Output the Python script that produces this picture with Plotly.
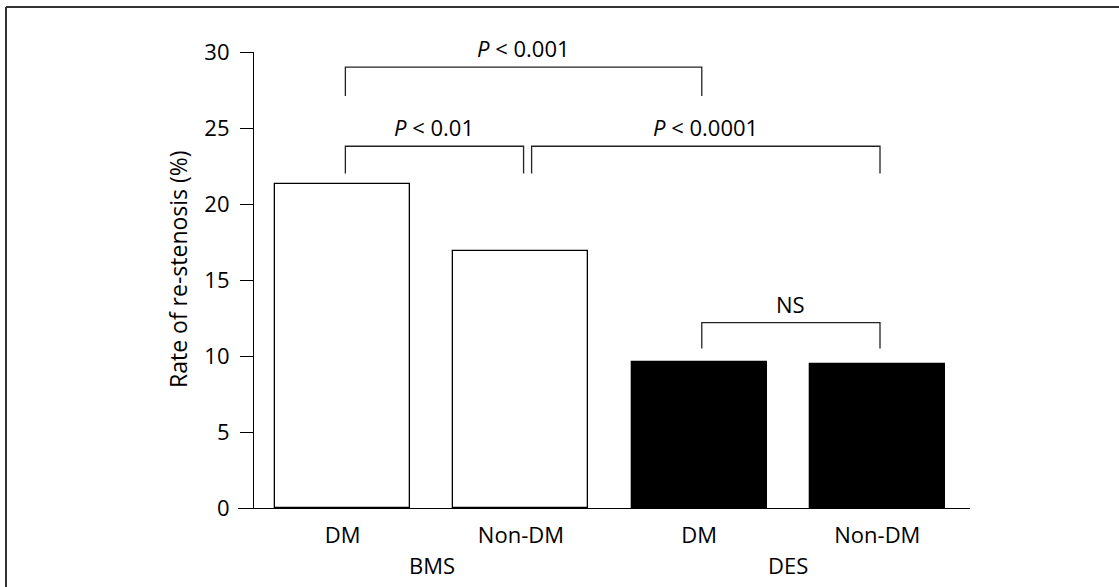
import plotly.graph_objects as go

# Re-stenosis rates by stent type and diabetic status
categories = ["DM", "Non-DM", "DM", "Non-DM"]
stent_groups = ["BMS", "BMS", "DES", "DES"]
restenosis_rate = [21.3, 16.9, 9.6, 9.5]
y_ticks = [0, 5, 10, 15, 20, 25, 30]

# Pairwise comparisons: bar indices, bracket height, leg foot, label
cmp_from = [0, 0, 1, 2]
cmp_to = [2, 1, 3, 3]
cmp_top = [29.0, 23.8, 23.8, 12.2]
cmp_foot = [27.1, 22.0, 22.0, 10.5]
cmp_label = ["<i>P</i> < 0.001", "<i>P</i> < 0.01", "<i>P</i> < 0.0001", "NS"]

# page / plot-area geometry in pixels
W, H = 1119, 587
PL, PR, PT, PB = 238, 970, 52, 508
plot_w, plot_h = PR - PL, PB - PT
YAXIS_PX = 253

FONT = "Open Sans"
FS = 22
INK = "#000000"

x_idx = list(range(len(categories)))
bar_fill = ["white" if g == "BMS" else "black" for g in stent_groups]

fig = go.Figure()
fig.add_trace(go.Bar(
    x=x_idx,
    y=restenosis_rate,
    width=0.758,
    marker=dict(color=bar_fill, line=dict(color="black", width=1.3)),
    hoverinfo="skip",
    showlegend=False,
))

# comparison brackets
nudge, gap = 0.015, 0.045
for k in range(len(cmp_label)):
    x0 = cmp_from[k] + nudge
    x1 = cmp_to[k] + nudge
    # separate brackets that meet at the same bar and height
    for j in range(len(cmp_label)):
        if j != k and cmp_to[j] == cmp_from[k] and cmp_top[j] == cmp_top[k]:
            x0 += gap
    fig.add_trace(go.Scatter(
        x=[x0, x0, x1, x1],
        y=[cmp_foot[k], cmp_top[k], cmp_top[k], cmp_foot[k]],
        mode="lines",
        line=dict(color="#222222", width=1.3),
        hoverinfo="skip",
        showlegend=False,
        cliponaxis=False,
    ))
    fig.add_annotation(
        x=(x0 + x1) / 2, y=cmp_top[k], xref="x", yref="y",
        text=cmp_label[k], showarrow=False,
        yanchor="middle", yshift=19,
        font=dict(family=FONT, size=FS, color=INK),
    )

# group labels centred under their bars
for g in dict.fromkeys(stent_groups):
    members = [i for i, s in enumerate(stent_groups) if s == g]
    fig.add_annotation(
        x=sum(members) / len(members), xref="x",
        y=(PB - 565) / plot_h, yref="paper",
        text=g, showarrow=False, yanchor="middle",
        font=dict(family=FONT, size=FS, color=INK),
    )

# y-axis title
fig.add_annotation(
    x=(178 - PL) / plot_w, xref="paper",
    y=(PB - 269) / plot_h, yref="paper",
    text="Rate of re-stenosis (%)", textangle=-90, showarrow=False,
    xanchor="center", yanchor="middle",
    font=dict(family=FONT, size=FS + 1, color=INK),
)

# frame lines along the top and left edge
def px_x(px):
    return (px - PL) / plot_w

def px_y(py):
    return (PB - py) / plot_h

frame = dict(color="#333333", width=2)
fig.add_shape(type="line", xref="paper", yref="paper",
              x0=px_x(6), x1=px_x(W + 2), y0=px_y(7), y1=px_y(7), line=frame)
fig.add_shape(type="line", xref="paper", yref="paper",
              x0=px_x(6), x1=px_x(6), y0=px_y(7), y1=px_y(H + 2), line=frame)

fig.update_layout(
    width=W, height=H,
    margin=dict(l=PL, r=W - PR, t=PT, b=H - PB, pad=0),
    paper_bgcolor="white", plot_bgcolor="white",
    font=dict(family=FONT, size=FS, color=INK),
    xaxis=dict(
        range=[-0.5875, 3.52],
        tickvals=x_idx, ticktext=categories,
        showline=True, linecolor="black", linewidth=1.3,
        ticks="", showgrid=False, zeroline=False,
        ticklabelstandoff=7,
        tickfont=dict(family=FONT, size=FS, color=INK),
    ),
    yaxis=dict(
        range=[0, 30], tickvals=y_ticks,
        anchor="free", position=(YAXIS_PX - PL) / plot_w,
        showline=True, linecolor="black", linewidth=1.2,
        ticks="outside", ticklen=13, tickwidth=1.2, tickcolor="black",
        showgrid=False, zeroline=False,
        ticklabelstandoff=6,
        tickfont=dict(family=FONT, size=FS, color=INK),
    ),
    bargap=0,
)

fig.write_html("out.html")
